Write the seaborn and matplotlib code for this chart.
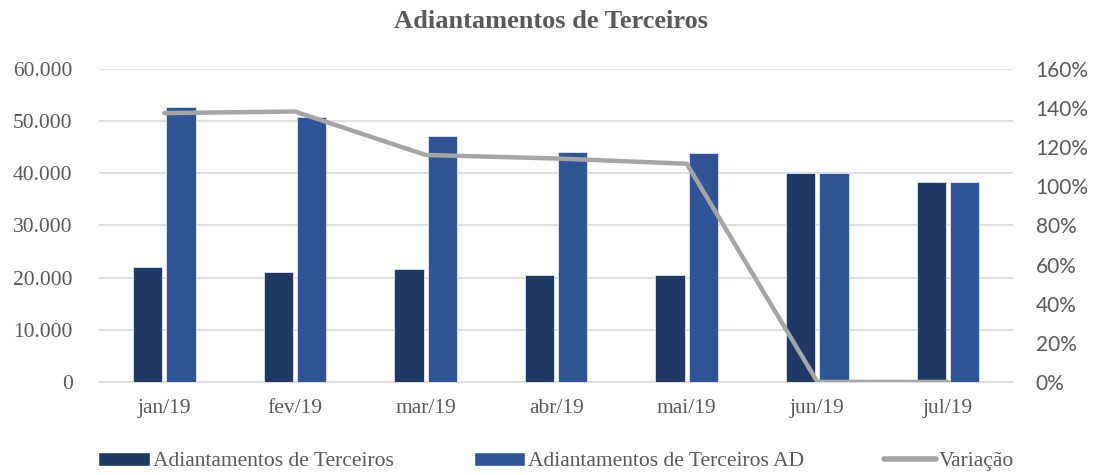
import numpy as np
import pandas as pd
import matplotlib
matplotlib.use("Agg")
import matplotlib.pyplot as plt
import matplotlib.ticker as mticker
from matplotlib.patches import Patch
from matplotlib.lines import Line2D
import seaborn as sns

# dados
meses = ['jan/19', 'fev/19', 'mar/19', 'abr/19', 'mai/19', 'jun/19', 'jul/19']
terceiros = [22000, 21000, 21700, 20450, 20500, 40050, 38300]
terceiros_ad = [52650, 50800, 47200, 44100, 43800, 40050, 38300]
variacao = [1.374, 1.382, 1.16, 1.142, 1.115, 0.0, 0.0]
series = ['Adiantamentos de Terceiros', 'Adiantamentos de Terceiros AD']

sns.set_theme(style="white")
serif = ['Liberation Serif', 'DejaVu Serif']
sans = ['Lato', 'DejaVu Sans']
cinza_txt = '#595959'
cores = ['#203864', '#2F5597']

df = pd.DataFrame({
    'mes': meses * 2,
    'valor': terceiros + terceiros_ad,
    'serie': [series[0]] * len(meses) + [series[1]] * len(meses),
})

fig = plt.figure(figsize=(10.95, 4.75), dpi=100)
ax = fig.add_axes([0.0904, 0.196, 0.835, 0.659])

sns.barplot(data=df, x='mes', y='valor', hue='serie', order=meses,
            palette=cores, saturation=1, width=0.51, gap=0.12,
            edgecolor='#dfe6f2', linewidth=0.6, ax=ax, legend=False, zorder=2)

ax.set_ylim(0, 60000)
ax.set_xlim(-0.5, len(meses) - 0.5)
ax.yaxis.set_major_locator(mticker.MultipleLocator(10000))
ax.yaxis.set_major_formatter(mticker.FuncFormatter(
    lambda v, p: '0' if v == 0 else f'{v:,.0f}'.replace(',', '.')))
ax.grid(axis='y', color='#D9D9D9', linewidth=1.2, zorder=0)
ax.set_axisbelow(True)
ax.set_xlabel('')
ax.set_ylabel('')
for s in ['top', 'right', 'left']:
    ax.spines[s].set_visible(False)
ax.spines['bottom'].set_color('#D9D9D9')
ax.spines['bottom'].set_linewidth(1.2)
ax.spines['bottom'].set_zorder(1)

# ticks entre as categorias
ax.set_xticks(np.arange(len(meses)))
ax.set_xticklabels(meses)
ax.set_xticks(np.arange(len(meses) + 1) - 0.5, minor=True)
ax.tick_params(axis='x', which='major', length=0, pad=12)
ax.tick_params(axis='x', which='minor', length=6, color='#D9D9D9', width=1.2)
ax.tick_params(axis='y', length=0, pad=19)
for lbl in ax.get_xticklabels() + ax.get_yticklabels():
    lbl.set_fontfamily(serif)
    lbl.set_fontsize(15.5)
    lbl.set_color(cinza_txt)

ax2 = ax.twinx()
sns.lineplot(x=np.arange(len(meses)), y=variacao, ax=ax2, color='#A5A5A5',
             linewidth=3.2, sort=False, solid_capstyle='round', zorder=3)
ax2.set_ylim(0, 1.6)
ax2.yaxis.set_major_locator(mticker.MultipleLocator(0.2))
ax2.yaxis.set_major_formatter(mticker.FuncFormatter(lambda v, p: f'{v*100:.0f}%'))
for s in ['top', 'right', 'left', 'bottom']:
    ax2.spines[s].set_visible(False)
ax2.tick_params(axis='y', length=0, pad=16)
for lbl in ax2.get_yticklabels():
    lbl.set_fontfamily(sans)
    lbl.set_fontsize(15)
    lbl.set_color(cinza_txt)
ax2.grid(False)

fig.text(0.503, 0.955, 'Adiantamentos de Terceiros', ha='center', va='center',
         fontsize=19, fontweight='bold', color=cinza_txt, family=serif)

handles = [Patch(facecolor=cores[0]), Patch(facecolor=cores[1]),
           Line2D([0], [0], color='#A5A5A5', linewidth=4)]
fig.legend(handles, series + ['Variação'], loc='center', ncol=3,
           bbox_to_anchor=(0.508, 0.028), frameon=False, handlelength=2.4,
           handleheight=0.6, handletextpad=0.15, columnspacing=3.7,
           prop={'family': serif, 'size': 15.5}, labelcolor=cinza_txt)

fig.savefig('out.png', dpi=100)
